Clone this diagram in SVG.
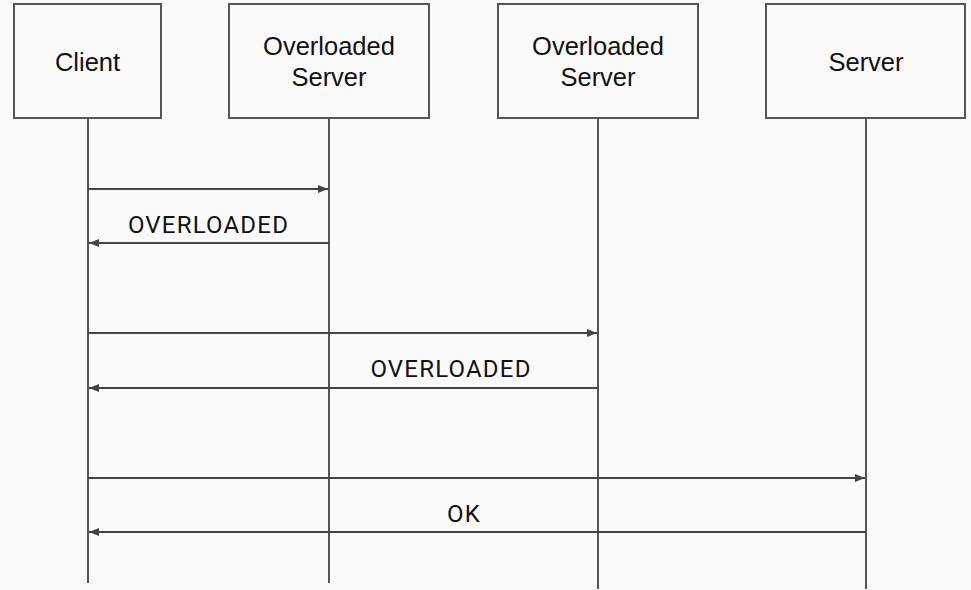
<svg xmlns="http://www.w3.org/2000/svg" width="971" height="590" viewBox="0 0 971 590">
<style>
.box{fill:#fafafa;stroke:#555;stroke-width:2}
.life{stroke:#555;stroke-width:2}
.msg{stroke:#444;stroke-width:2;fill:none}
.nt{font-family:"Liberation Sans",Arial,sans-serif;font-size:25.5px;fill:#111;text-anchor:middle}
.lbl{font-family:Roboto,"Noto Sans",sans-serif;font-size:24px;fill:#111;text-anchor:middle;letter-spacing:1.2px}
</style>
<defs>
<marker id="ah" viewBox="0 0 10 8" refX="10" refY="4" markerWidth="11" markerHeight="8" markerUnits="userSpaceOnUse" orient="auto">
<path d="M0,0 L10,4 L0,8 Z" fill="#444"/>
</marker>
</defs>
<rect width="971" height="590" fill="#fafafa"/>
<g id="client">
<rect class="box" x="14" y="4" width="147" height="114"/>
<text class="nt" x="87.5" y="71">Client</text>
</g>
<g id="overloaded1">
<rect class="box" x="229" y="4" width="200" height="114"/>
<text class="nt" x="329" y="55">Overloaded</text>
<text class="nt" x="329" y="86">Server</text>
</g>
<g id="overloaded2">
<rect class="box" x="498" y="4" width="200" height="114"/>
<text class="nt" x="598" y="55">Overloaded</text>
<text class="nt" x="598" y="86">Server</text>
</g>
<g id="server">
<rect class="box" x="766" y="4" width="199" height="114"/>
<text class="nt" x="866" y="71">Server</text>
</g>
<g id="lifelines">
<line class="life" x1="88" y1="118" x2="88" y2="583"/>
<line class="life" x1="329" y1="118" x2="329" y2="583"/>
<line class="life" x1="598" y1="118" x2="598" y2="589"/>
<line class="life" x1="866" y1="118" x2="866" y2="589"/>
</g>
<g id="connectors">
<line class="msg" x1="88" y1="189" x2="328" y2="189" marker-end="url(#ah)"/>
<line class="msg" x1="329" y1="243" x2="89" y2="243" marker-end="url(#ah)"/>
<line class="msg" x1="88" y1="333" x2="597" y2="333" marker-end="url(#ah)"/>
<line class="msg" x1="598" y1="388" x2="89" y2="388" marker-end="url(#ah)"/>
<line class="msg" x1="88" y1="478" x2="865" y2="478" marker-end="url(#ah)"/>
<line class="msg" x1="866" y1="532" x2="89" y2="532" marker-end="url(#ah)"/>
<text class="lbl" x="208.5" y="233">OVERLOADED</text>
<text class="lbl" x="451" y="377">OVERLOADED</text>
<text class="lbl" x="464" y="522">OK</text>
</g>
</svg>
